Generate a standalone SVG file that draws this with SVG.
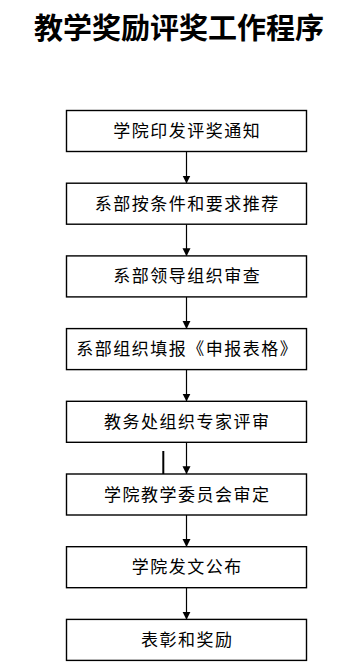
<svg xmlns="http://www.w3.org/2000/svg" width="355" height="667" viewBox="0 0 355 667">
<style>
.box{fill:#fff;stroke:#000;stroke-width:1.4}
.lbl{font-family:"Noto Sans CJK SC","Noto Sans",sans-serif;font-size:17px;letter-spacing:1.5px;text-anchor:middle;fill:#000}
.title{font-family:"Noto Sans CJK SC","Noto Sans",sans-serif;font-size:29px;font-weight:bold;text-anchor:middle;fill:#000}
.ln{stroke:#000;stroke-width:1.2;fill:none}
</style>
<defs>
<marker id="ah" markerWidth="8" markerHeight="9" refX="7.5" refY="4" orient="auto" markerUnits="userSpaceOnUse" viewBox="0 0 8 8">
<path d="M0,0 L8,4 L0,8 Z" fill="#000"/>
</marker>
</defs>
<rect width="355" height="667" fill="#fff"/>
<text class="title" x="179" y="39">教学奖励评奖工作程序</text>
<g id="connectors">
<line class="ln" x1="186.5" y1="151.5" x2="186.5" y2="183" marker-end="url(#ah)"/>
<line class="ln" x1="186.5" y1="224.2" x2="186.5" y2="255.7" marker-end="url(#ah)"/>
<line class="ln" x1="186.5" y1="296.9" x2="186.5" y2="328.4" marker-end="url(#ah)"/>
<line class="ln" x1="186.5" y1="369.6" x2="186.5" y2="401.1" marker-end="url(#ah)"/>
<line class="ln" x1="186.5" y1="442.3" x2="186.5" y2="473.8" marker-end="url(#ah)"/>
<line class="ln" x1="186.5" y1="515" x2="186.5" y2="546.5" marker-end="url(#ah)"/>
<line class="ln" x1="186.5" y1="587.7" x2="186.5" y2="619.2" marker-end="url(#ah)"/>
<line x1="163.3" y1="451" x2="163.3" y2="474" stroke="#000" stroke-width="2"/>
</g>
<g id="n1"><rect class="box" x="66.5" y="110.5" width="240" height="41"/><text class="lbl" x="187.2" y="137">学院印发评奖通知</text></g>
<g id="n2"><rect class="box" x="66.5" y="183.2" width="240" height="41"/><text class="lbl" x="187.2" y="209.7">系部按条件和要求推荐</text></g>
<g id="n3"><rect class="box" x="66.5" y="255.9" width="240" height="41"/><text class="lbl" x="187.2" y="282.4">系部领导组织审查</text></g>
<g id="n4"><rect class="box" x="66.5" y="328.6" width="240" height="41"/><text class="lbl" x="187.2" y="355.1">系部组织填报《申报表格》</text></g>
<g id="n5"><rect class="box" x="66.5" y="401.3" width="240" height="41"/><text class="lbl" x="187.2" y="427.8">教务处组织专家评审</text></g>
<g id="n6"><rect class="box" x="66.5" y="474" width="240" height="41"/><text class="lbl" x="187.2" y="500.5">学院教学委员会审定</text></g>
<g id="n7"><rect class="box" x="66.5" y="546.7" width="240" height="41"/><text class="lbl" x="187.2" y="573.2">学院发文公布</text></g>
<g id="n8"><rect class="box" x="66.5" y="619.4" width="240" height="41"/><text class="lbl" x="187.2" y="645.9">表彰和奖励</text></g>
</svg>
